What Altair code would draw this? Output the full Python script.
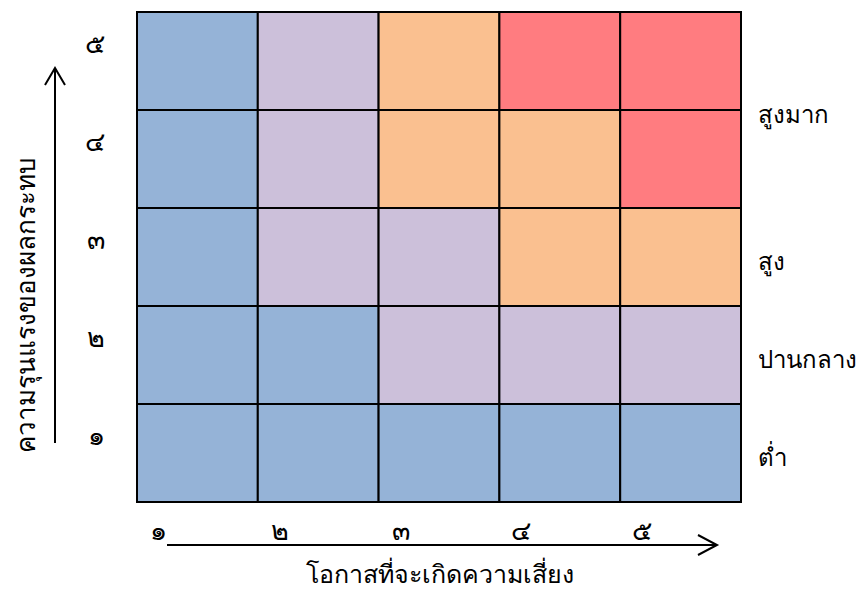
import altair as alt
import pandas as pd

# Risk matrix: impact rows (1 bottom .. 5 top) x likelihood columns (1..5)
likelihood_labels = ["๑", "๒", "๓", "๔", "๕"]
impact_labels = ["๑", "๒", "๓", "๔", "๕"]
row1 = ["ต่ำ", "ต่ำ", "ต่ำ", "ต่ำ", "ต่ำ"]
row2 = ["ต่ำ", "ต่ำ", "ปานกลาง", "ปานกลาง", "ปานกลาง"]
row3 = ["ต่ำ", "ปานกลาง", "ปานกลาง", "สูง", "สูง"]
row4 = ["ต่ำ", "ปานกลาง", "สูง", "สูง", "สูงมาก"]
row5 = ["ต่ำ", "ปานกลาง", "สูง", "สูงมาก", "สูงมาก"]
levels = ["ต่ำ", "ปานกลาง", "สูง", "สูงมาก"]
level_colors = ["#95B3D7", "#CCC0DA", "#FAC090", "#FF7C80"]
# legend labels on the right, anchored to impact-scale values
legend_text = ["สูงมาก", "สูง", "ปานกลาง", "ต่ำ"]
legend_anchor = [4.0, 2.5, 1.5, 0.5]

x_title = "โอกาสที่จะเกิดความเสี่ยง"
y_title = "ความรุนแรงของผลกระทบ"

rows = [row1, row2, row3, row4, row5]
cells = []
for r, row in enumerate(rows):
    for c, lvl in enumerate(row):
        cells.append({"x0": c, "x1": c + 1, "y0": r, "y1": r + 1, "level": lvl})
df = pd.DataFrame(cells)

FONT = "Noto Sans"
W, H = 604, 490

xscale = alt.Scale(domain=[0, 5], nice=False, zero=False)
yscale = alt.Scale(domain=[0, 5], nice=False, zero=False)

lab_arr = "[" + ",".join("'" + s + "'" for s in likelihood_labels) + "]"
imp_arr = "[" + ",".join("'" + s + "'" for s in impact_labels) + "]"

rect = alt.Chart(df).mark_rect(stroke="black", strokeWidth=2).encode(
    x=alt.X("x0:Q", scale=xscale, axis=alt.Axis(
        values=[0.5, 1.5, 2.5, 3.5, 4.5],
        labelExpr=lab_arr + "[floor(datum.value)]",
        domain=False, ticks=False, grid=False,
        labelOffset=-39, labelPadding=16, labelFontSize=27, labelFont=FONT,
        labelFontWeight=300,
        labelColor="black", labelBaseline="top",
        title=x_title, titleFont=FONT, titleFontSize=25, titleFontWeight="normal",
        titleColor="black", titleX=W / 2, titleY=72, titleAlign="center",
        titleBaseline="middle")),
    x2="x1:Q",
    y=alt.Y("y0:Q", scale=yscale, axis=alt.Axis(
        values=[0.5, 1.5, 2.5, 3.5, 4.5],
        labelExpr=imp_arr + "[floor(datum.value)]",
        domain=False, ticks=False, grid=False,
        labelOffset=-17, labelPadding=33, labelFontSize=27, labelFont=FONT,
        labelFontWeight=300,
        labelColor="black", labelBaseline="middle",
        title=y_title, titleFont=FONT, titleFontSize=26, titleFontWeight="normal",
        titleColor="black", titleX=-111, titleY=292, titleAlign="center",
        titleBaseline="middle", titleAngle=270)),
    y2="y1:Q",
    color=alt.Color("level:N", scale=alt.Scale(domain=levels, range=level_colors), legend=None),
)

leg_df = pd.DataFrame({"label": legend_text, "anchor": legend_anchor})
legend_txt = alt.Chart(leg_df).mark_text(
    align="left", baseline="middle", fontSize=24, font=FONT, color="black", dy=6
).encode(
    x=alt.value(W + 17),
    y=alt.Y("anchor:Q", scale=yscale),
    text="label:N",
)

one = pd.DataFrame({"k": [0]})
y_arrow = alt.Chart(one).mark_rule(color="black", strokeWidth=2).encode(
    x=alt.value(-82), y=alt.value(56), y2=alt.value(431))
y_head = alt.Chart(one).mark_point(
    shape="M -1 1.7 L 0 0 L 1 1.7", size=400, filled=False, color="black",
    strokeWidth=2, opacity=1).encode(x=alt.value(-82), y=alt.value(56))
x_arrow = alt.Chart(one).mark_rule(color="black", strokeWidth=2).encode(
    x=alt.value(30), x2=alt.value(580), y=alt.value(533))
x_head = alt.Chart(one).mark_point(
    shape="M -1.9 -1 L 0 0 L -1.9 1", size=400, filled=False, color="black",
    strokeWidth=2, opacity=1).encode(x=alt.value(580), y=alt.value(533))

chart = alt.layer(rect, legend_txt, y_arrow, y_head, x_arrow, x_head).properties(
    width=W, height=H,
    autosize=alt.AutoSizeParams(type="none"),
    padding={"left": 129, "top": 4, "right": 119, "bottom": 88},
).configure_view(stroke=None).configure(background="white")

chart.save("out.html", embed_options={"renderer": "svg", "actions": False})
